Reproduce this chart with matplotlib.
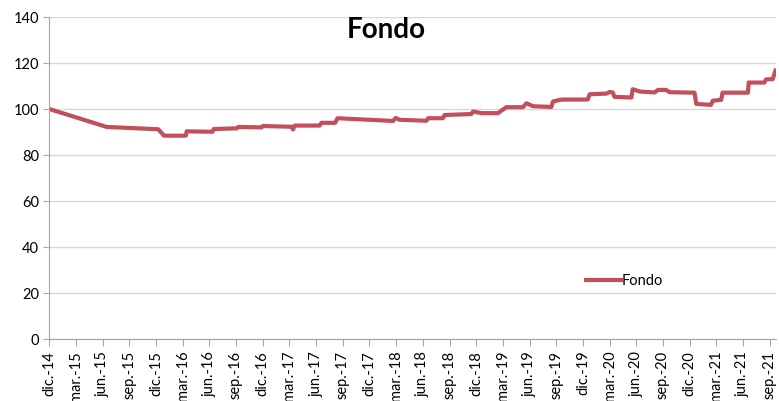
#!/usr/bin/env python
import numpy as np
import matplotlib.pyplot as plt

plt.rcParams['font.family'] = ['Lato', 'DejaVu Sans']

# months elapsed since dic.-14, and fund value (base 100)
months = [0, 6.45, 12.25, 12.9, 15.35, 15.45, 18.35, 18.5, 21.1, 21.25,
          23.85, 24.0, 27.05, 27.25, 27.4, 27.6, 30.4, 30.6, 32.15, 32.4,
          38.65, 38.95, 39.4, 42.4, 42.6, 44.25, 44.45, 47.45, 47.65, 48.6,
          50.45, 50.65, 51.4, 53.25, 53.65, 54.4, 56.45, 56.65, 57.6, 60.55,
          60.75, 62.65, 63.0, 63.35, 63.55, 65.45, 65.6, 66.4, 68.05, 68.45,
          69.35, 69.75, 72.55, 72.75, 74.4, 74.6, 75.55, 75.7, 78.55, 78.65,
          80.4, 80.6, 81.35, 81.65]
fondo = [100, 92.2, 91.2, 88.4, 88.4, 90.3, 90.1, 91.3, 91.6, 92.2,
         92.0, 92.6, 92.3, 92.3, 91.1, 92.8, 92.8, 94.0, 94.0, 96.0,
         94.8, 96.1, 95.3, 94.9, 96.0, 96.0, 97.4, 97.8, 98.9, 98.2,
         98.2, 98.8, 100.8, 100.8, 102.5, 101.2, 100.9, 103.3, 104.1, 104.1,
         106.4, 106.7, 107.4, 107.2, 105.3, 105.0, 108.6, 107.6, 107.2, 108.3,
         108.3, 107.3, 107.1, 102.2, 101.8, 103.6, 104.0, 107.1, 107.1, 111.5,
         111.5, 112.9, 113.0, 116.7]

tick_labels = ['dic.-14', 'mar.-15', 'jun.-15', 'sep.-15', 'dic.-15', 'mar.-16',
               'jun.-16', 'sep.-16', 'dic.-16', 'mar.-17', 'jun.-17', 'sep.-17',
               'dic.-17', 'mar.-18', 'jun.-18', 'sep.-18', 'dic.-18', 'mar.-19',
               'jun.-19', 'sep.-19', 'dic.-19', 'mar.-20', 'jun.-20', 'sep.-20',
               'dic.-20', 'mar.-21', 'jun.-21', 'sep.-21']

fig = plt.figure(figsize=(7.79, 4.01), dpi=100)
ax = fig.add_axes([0.0633, 0.1546, 0.9327, 0.803])

ax.plot(months, fondo, color='#C24F5A', lw=3, label='Fondo',
        solid_joinstyle='round')

ax.set_xlim(0, 81.7)
ax.set_ylim(0, 140)
ax.set_yticks(np.arange(0, 141, 20))
ax.set_xticks(np.arange(0, 82, 3))
ax.set_xticklabels(tick_labels, rotation=90, fontsize=10.5)
ax.tick_params(axis='y', labelsize=10.5, length=4, color='#A6A6A6')
ax.tick_params(axis='x', length=5, color='#A6A6A6')
ax.grid(axis='y', color='#D9D9D9', lw=1)
ax.set_axisbelow(True)
for s in ['top', 'right']:
    ax.spines[s].set_visible(False)
for s in ['left', 'bottom']:
    ax.spines[s].set_color('#A6A6A6')

fig.text(0.4955, 0.925, 'Fondo', fontsize=20, fontweight='bold',
         ha='center', va='center')

ax.legend(loc='center left', bbox_to_anchor=(0.72, 0.18), frameon=False,
          fontsize=10.5, handlelength=2.4, handletextpad=0.1)

plt.savefig('out.png', dpi=100)
